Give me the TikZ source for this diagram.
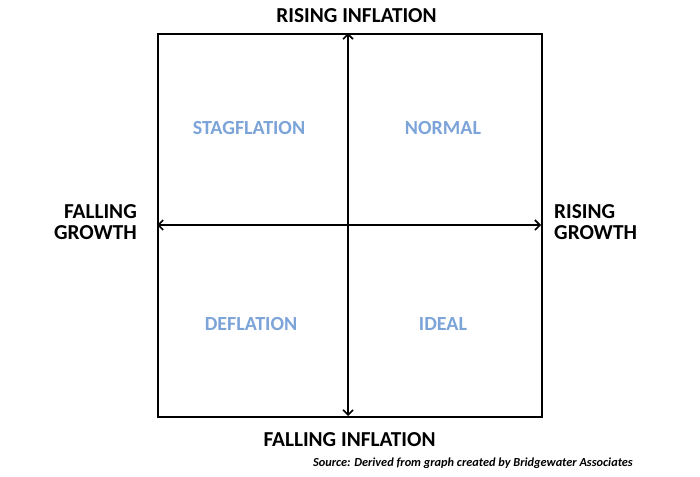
\documentclass[tikz,border=0pt]{standalone}
\usepackage{fontspec}
\setmainfont{Carlito}
\usetikzlibrary{arrows.meta}
\definecolor{quad}{RGB}{124,164,216}
\tikzset{
  axis/.style={line width=2pt, {Straight Barb[length=5pt,width=10pt,line width=1.6pt]}-{Straight Barb[length=5pt,width=10pt,line width=1.6pt]}},
  frame/.style={line width=2pt},
  axlabel/.style={font=\fontsize{21.3}{21}\selectfont\bfseries, inner sep=0pt},
  quadlabel/.style={font=\fontsize{20}{22}\selectfont\bfseries, text=quad, inner sep=0pt},
  srclabel/.style={font=\fontsize{12.3}{14}\selectfont\bfseries\itshape, inner sep=0pt}
}
\begin{document}
\begin{tikzpicture}[x=1pt,y=-1pt]
\useasboundingbox (0,0) rectangle (700,476);
\node[draw, frame, minimum width=384pt, minimum height=383pt, inner sep=0pt, anchor=north west] (box) at (157,33) {};
\coordinate (top) at (348,33);
\coordinate (bot) at (348,416);
\coordinate (lft) at (157,225);
\coordinate (rgt) at (541,225);
\draw[axis] (bot) -- (top);
\draw[axis] (lft) -- (rgt);
\node[axlabel] (ri) at (356.5,16) {RISING INFLATION};
\node[axlabel] (fi) at (349.5,439.5) {FALLING INFLATION};
\node[axlabel, align=right, anchor=east] (fg) at (137,222) {FALLING\\GROWTH};
\node[axlabel, align=left, anchor=west] (rg) at (554,222) {RISING\\GROWTH};
\node[quadlabel] (stag) at (249,128) {STAGFLATION};
\node[quadlabel] (norm) at (443,128) {NORMAL};
\node[quadlabel] (defl) at (251,324) {DEFLATION};
\node[quadlabel] (ideal) at (443,324) {IDEAL};
\node[srclabel, anchor=east] (src) at (633,463) {Source: Derived from graph created by Bridgewater Associates};
\end{tikzpicture}
\end{document}
